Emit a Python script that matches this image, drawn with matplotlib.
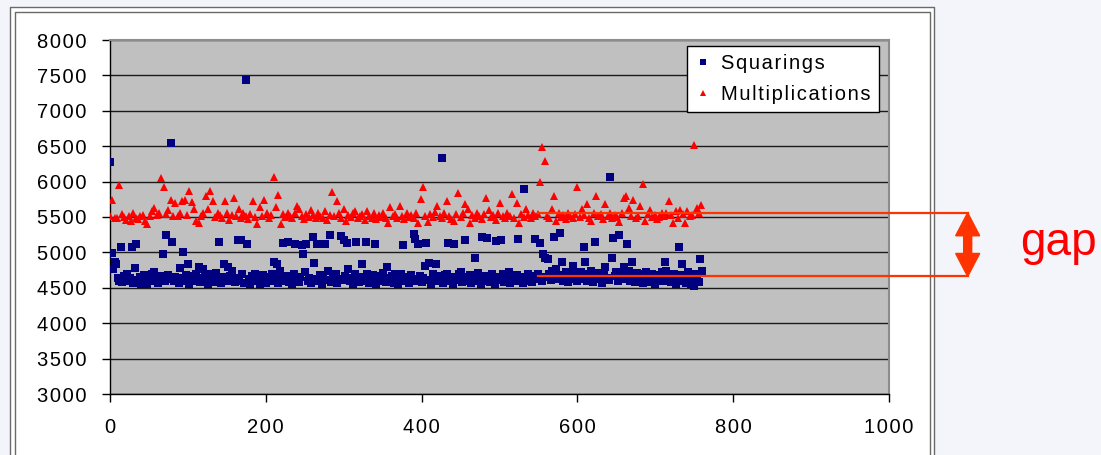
import numpy as np
import matplotlib
matplotlib.use("Agg")
import matplotlib.pyplot as plt
from matplotlib.patches import Rectangle, FancyArrow
from matplotlib.lines import Line2D
from matplotlib.transforms import IdentityTransform

# timing per exponent bit (every 2nd / 3rd sample)
squarings = [
    6280, 4990, 4760, 4870, 4830, 4640, 4600, 5080, 4580, 4660, 4620, 4700, 4590, 4640, 5080, 4570, 4780, 5120, 4610, 4650,
    4560, 4630, 4680, 4600, 4550, 4640, 4610, 4700, 4730, 4590, 4620, 4570, 4660, 4640, 4980, 4600, 5240, 4680, 4620, 6540,
    5150, 4590, 4650, 4610, 4570, 4780, 4640, 5010, 4600, 4680, 4830, 4560, 4620, 4660, 4590, 4700, 4640, 4800, 4580, 4620,
    4770, 4650, 4600, 4560, 4690, 4620, 4580, 4640, 4710, 4600, 5150, 4570, 4650, 4830, 4620, 4590, 4800, 4660, 4740, 4610,
    4580, 4640, 5170, 4600, 5170, 4690, 4570, 7430, 5120, 4630, 4560, 4660, 4610, 4700, 4590, 4640, 4550, 4620, 4680, 4600,
    4570, 4650, 4610, 4590, 4700, 4870, 4630, 4830, 4570, 4740, 4620, 5130, 4600, 4660, 5140, 4580, 4640, 4560, 4690, 5120,
    4610, 4580, 4650, 5110, 4980, 4730, 5120, 4600, 4640, 4570, 5220, 4850, 4620, 5120, 4590, 4680, 4560, 4640, 5120, 4610,
    4740, 5240, 4580, 4650, 4600, 4700, 4570, 4630, 5230, 4610, 5180, 4660, 5130, 4760, 4590, 4640, 4560, 4690, 5150, 4620,
    4580, 4650, 4830, 4600, 5150, 4700, 4570, 4640, 4610, 4680, 5120, 4560, 4620, 4660, 4590, 4710, 4640, 4580, 4800, 4620,
    4600, 4660, 4570, 4690, 4620, 4550, 4640, 4700, 5110, 4590, 4650, 4610, 4570, 4680, 4630, 5260, 5190, 4600, 5120, 4660,
    4580, 4640, 4810, 5130, 4610, 4850, 4560, 4700, 4630, 4840, 4590, 4660, 4620, 6340, 4570, 4680, 4690, 5130, 4600, 4650,
    4560, 5120, 4640, 4610, 4700, 4730, 4580, 4650, 5170, 4600, 4620, 4680, 4570, 4640, 4920, 4590, 4710, 4630, 4560, 5220,
    4660, 4600, 5210, 4640, 4580, 4700, 4620, 4560, 5160, 4650, 4610, 5170, 4690, 4580, 4640, 4600, 4720, 4570, 4660, 4620,
    4590, 4680, 5190, 4610, 4650, 4570, 5900, 4630, 4700, 4600, 4660, 4580, 4640, 5190, 4620, 4690, 5130, 4600, 4980, 4920,
    4650, 4900, 4700, 4610, 4740, 5220, 4770, 4630, 4680, 5270, 4870, 4600, 4660, 4720, 4580, 4690, 4640, 4810, 4620, 4700,
    4590, 4670, 4720, 4630, 5070, 4860, 4600, 4690, 4650, 4740, 4580, 5140, 4660, 4710, 4620, 4680, 4570, 4700, 4800, 4640,
    4610, 6060, 4920, 5200, 4660, 4720, 4590, 5250, 4680, 4630, 4800, 4700, 5120, 4740, 4600, 4860, 4660, 4580, 4710, 4640,
    4620, 4690, 4570, 4660, 4730, 4600, 4650, 4580, 4700, 4620, 4560, 4680, 4640, 4600, 4720, 4590, 4860, 4740, 4620, 4670,
    4580, 4650, 4700, 4560, 4630, 5080, 4680, 4840, 4600, 4660, 4570, 4720, 4620, 4550, 4690, 4530, 4640, 4700, 4580, 4900,
    4740,
]

multiplications = [
    5520, 5745, 5480, 5480, 5945, 5540, 5500, 5460, 5520, 5440, 5550, 5490, 5470, 5510, 5530, 5450, 5400, 5510, 5580, 5630,
    5530, 5560, 6050, 5920, 5540, 5600, 5740, 5520, 5700, 5510, 5560, 5720, 5740, 5530, 5870, 5710, 5620, 5440, 5420, 5510,
    5550, 5800, 5620, 5870, 5720, 5500, 5560, 5530, 5490, 5720, 5560, 5460, 5530, 5770, 5520, 5620, 5480, 5550, 5510, 5470,
    5540, 5730, 5500, 5400, 5640, 5520, 5740, 5560, 5490, 5530, 6070, 5640, 5810, 5400, 5540, 5500, 5560, 5520, 5480, 5550,
    5660, 5610, 5510, 5470, 5540, 5500, 5600, 5530, 5480, 5550, 5520, 5490, 5580, 5460, 5530, 5850, 5510, 5730, 5550, 5490,
    5610, 5450, 5530, 5500, 5560, 5580, 5480, 5520, 5540, 5460, 5590, 5510, 5490, 5550, 5470, 5530, 5500, 5560, 5480, 5420,
    5640, 5510, 5540, 5490, 5660, 5520, 5470, 5550, 5500, 5530, 5480, 5560, 5420, 5750, 5930, 5510, 5430, 5540, 5500, 5570,
    5660, 5520, 5490, 5550, 5720, 5510, 5470, 5440, 5540, 5845, 5500, 5560, 5680, 5620, 5420, 5530, 5490, 5550, 5510, 5470,
    5540, 5770, 5600, 5500, 5530, 5460, 5560, 5700, 5520, 5490, 5550, 5510, 5825, 5480, 5700, 5420, 5540, 5500, 5620, 5530,
    5480, 5560, 5510, 5540, 6000, 6490, 6290, 5520, 5490, 5610, 5800, 5440, 5550, 5500, 5530, 5470, 5560, 5510, 5490, 5540,
    5920, 5500, 5610, 5530, 5680, 5480, 5440, 5550, 5800, 5510, 5540, 5470, 5680, 5520, 5560, 5490, 5530, 5500, 5430, 5550,
    5770, 5800, 5630, 5520, 5740, 5490, 5510, 5650, 5970, 5440, 5540, 5600, 5500, 5530, 5470, 5500, 5560, 5510, 5560, 5730,
    5530, 5420, 5580, 5490, 5600, 5540, 5420, 5590, 5510, 5530, 6520, 5630, 5560, 5670,
]

squarings_x = np.arange(0, 2 * len(squarings), 2)
multiplications_x = np.arange(0, 3 * len(multiplications), 3)

# the "gap" annotation between the two bands
gap_top = 5560
gap_bottom = 4660
gap_start = 550
gap_end = 1101

x_ticks = np.arange(0, 1001, 200)
y_ticks = np.arange(3000, 8001, 500)

W, H = 1101, 455
FONT = ["Liberation Sans", "DejaVu Sans"]
plt.rcParams["font.family"] = FONT


def spaced(text):
    # Excel-ish letter spacing
    return "\u200a".join(str(text))


def fig_xy(x, y):
    return x / W, 1 - y / H


fig = plt.figure(figsize=(W / 100, H / 100), dpi=100, facecolor="#f3f5fa")

# white slide frame with double border, kept behind the axes
fig.patches.append(Rectangle(fig_xy(10, 455), 924 / W, 448 / H,
                             transform=fig.transFigure, facecolor="white",
                             edgecolor="none", zorder=-10))
for x0, x1, y0 in [(10, 934, 7), (15, 930, 12)]:
    fig.add_artist(Line2D([x0 / W, x0 / W, x1 / W, x1 / W],
                          [0, 1 - y0 / H, 1 - y0 / H, 0],
                          transform=fig.transFigure, color="#6a6a6a", lw=1.0,
                          zorder=-5))

ax = fig.add_axes([110 / W, 1 - 394 / H, 779 / W, 354 / H])
ax.set_facecolor("#c0c0c0")
ax.set_xlim(0, 1000)
ax.set_ylim(3000, 8000)
ax.set_xticks(x_ticks)
ax.set_yticks(y_ticks)
ax.set_xticklabels([spaced(int(v)) for v in x_ticks])
ax.set_yticklabels([spaced(int(v)) for v in y_ticks])
ax.set_axisbelow(True)
ax.grid(axis="y", color="#1a1a1a", lw=1.0)
ax.grid(axis="x", visible=False)

for side in ["left", "bottom"]:
    ax.spines[side].set_color("black")
    ax.spines[side].set_linewidth(1.0)
for side in ["top", "right"]:
    ax.spines[side].set_color("#8c8c8c")
    ax.spines[side].set_linewidth(1.5)

ax.tick_params(axis="both", direction="out", length=6, width=1,
               labelsize=14.5, pad=11, colors="black")

ax.plot(squarings_x, squarings, ls="none", marker="s", ms=5.1,
        mfc="#000080", mec="#000080", mew=0, label=spaced("Squarings"),
        zorder=3)
ax.plot(multiplications_x, multiplications, ls="none", marker="^", ms=6.3,
        mfc="#ff0000", mec="#ff0000", mew=0, label=spaced("Multiplications"),
        zorder=4)

leg = ax.legend(loc="upper right", bbox_to_anchor=(0.987, 0.984),
                borderaxespad=0, fancybox=False, framealpha=1,
                edgecolor="black", fontsize=14.5, handlelength=0.8,
                handletextpad=0.5, borderpad=0.4, labelspacing=0.62,
                markerscale=0.75)
leg.get_frame().set_linewidth(1.0)

# gap lines + double arrow
red = "#ff3300"
for yv in [gap_top, gap_bottom]:
    ax.plot([gap_start, gap_end], [yv, yv], color=red, lw=1.6,
            clip_on=False, zorder=5)

x_a, y_t = ax.transData.transform((gap_end, gap_top))
_, y_b = ax.transData.transform((gap_end, gap_bottom))
y_m = (y_t + y_b) / 2
for tip in [y_t, y_b]:
    fig.add_artist(FancyArrow(x_a, y_m, 0, tip - y_m, width=8,
                              head_width=24, head_length=23,
                              length_includes_head=True, color=red,
                              transform=IdentityTransform()))

fig.text(*fig_xy(1020, 255), "gap", color="#ff0000", fontsize=33,
         ha="left", va="baseline")

fig.savefig("out.png", dpi=100, facecolor=fig.get_facecolor())
